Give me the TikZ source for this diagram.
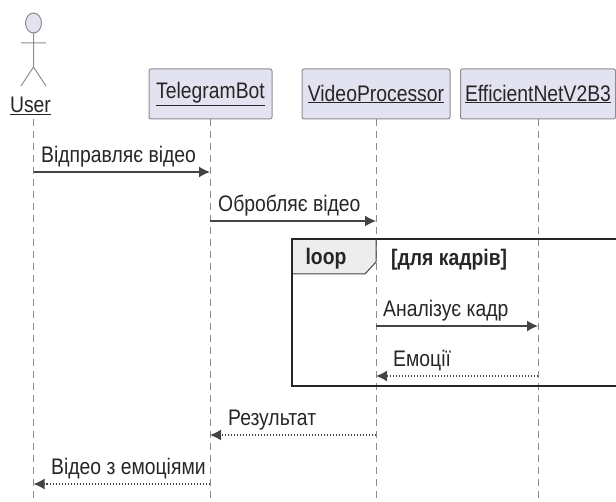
\documentclass[tikz,border=0pt]{standalone}
\usepackage{fontspec}
\setmainfont{Liberation Sans}
\usetikzlibrary{arrows.meta}
\definecolor{boxfill}{HTML}{E2E2F0}
\definecolor{boxline}{HTML}{8C8C96}
\definecolor{inkline}{HTML}{444444}
\newcommand{\nar}[1]{\scalebox{.86}[1]{#1}}
\tikzset{
	txt/.style={inner sep=0pt, text=black!85, font=\fontsize{22.5}{26}\selectfont},
	part/.style={txt, draw=boxline, fill=boxfill, rounded corners=2pt, line width=1pt, anchor=center},
	life/.style={draw=black!45, line width=1pt, dash pattern=on 7pt off 5pt},
	msg/.style={draw=inkline, line width=1.4pt, -{Latex[length=11pt,width=11pt]}},
	ret/.style={draw=inkline, line width=1.4pt, dash pattern=on 1.5pt off 1.5pt, -{Latex[length=11pt,width=11pt]}}
}
\begin{document}
\begin{tikzpicture}[x=1pt, y=-1pt]
		\useasboundingbox (0,0) rectangle (616,502);
		
		%lifelines
		\foreach \name/\xpos in {a/33.5, b/210, c/376, d/538}{
			\coordinate (\name top) at (\xpos,119);
			\coordinate (\name bot) at (\xpos,502);
			\draw[life] (\name top) -- (\name bot);
		}
		
		%participants
		\node[part, minimum width=123pt, minimum height=50pt] (bot) at (210.5,94) {\nar{\underline{TelegramBot}}};
		\node[part, minimum width=148pt, minimum height=50pt] (proc) at (376,94) {\nar{\underline{VideoProcessor}}};
		\node[part, minimum width=155pt, minimum height=50pt] (net) at (538,94) {\nar{\underline{EfficientNetV2B3}}};
		
		%actor
		\draw[boxline, fill=boxfill, line width=1pt] (33.5,23) ellipse (8 and 10);
		\draw[boxline, line width=1pt] (33.5,33) -- (33.5,67) (21,43) -- (46,43) (21,86) -- (33.5,67) -- (46,86);
		\node[txt] (user) at (30.5,106) {\nar{\underline{User}}};
		
		%loop frame
		\fill[black!7] (291.5,239) -- (376,239) -- (376,262) -- (365,274) -- (291.5,274) -- cycle;
		\draw[inkline, line width=1pt] (291.5,274) -- (365,274) -- (376,262) -- (376,239);
		\draw[black!85, line width=2pt] (620,239) -- (291.5,239) -- (291.5,386) -- (620,386);
		\node[txt, font=\fontsize{22.5}{26}\selectfont\bfseries] (looplabel) at (326,259) {\nar{loop}};
		\node[txt, font=\fontsize{22.5}{26}\selectfont\bfseries, anchor=west] (loopcond) at (391,260) {\nar{[для кадрів]}};
		
		%messages
		\coordinate (m1a) at (33.5,172);
		\coordinate (m1b) at (210,172);
		\coordinate (m2a) at (210,221);
		\coordinate (m2b) at (376,221);
		\coordinate (m3a) at (376,326);
		\coordinate (m3b) at (538,326);
		\coordinate (m4a) at (538,376);
		\coordinate (m4b) at (376,376);
		\coordinate (m5a) at (376,435);
		\coordinate (m5b) at (210,435);
		\coordinate (m6a) at (210,484);
		\coordinate (m6b) at (33.5,484);
		\draw[msg] (m1a) -- (m1b);
		\draw[msg] (m2a) -- (m2b);
		\draw[msg] (m3a) -- (m3b);
		\draw[ret] (m4a) -- (m4b);
		\draw[ret] (m5a) -- (m5b);
		\draw[ret] (m6a) -- (m6b);
		
		\node[txt, anchor=base west] (t1) at (41,163) {\nar{Відправляє відео}};
		\node[txt, anchor=base west] (t2) at (218,212) {\nar{Обробляє відео}};
		\node[txt, anchor=base west] (t3) at (383,317) {\nar{Аналізує кадр}};
		\node[txt, anchor=base west] (t4) at (393,367) {\nar{Емоції}};
		\node[txt, anchor=base west] (t5) at (228,426) {\nar{Результат}};
		\node[txt, anchor=base west] (t6) at (51,475) {\nar{Відео з емоціями}};
		
		\end{tikzpicture}
\end{document}
